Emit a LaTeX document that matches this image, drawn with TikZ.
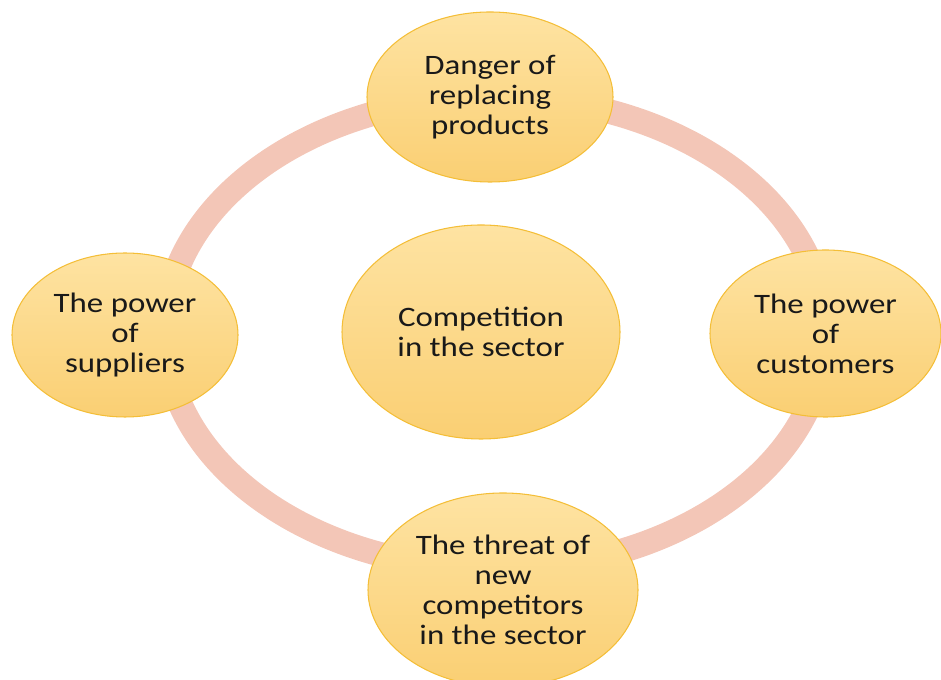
\documentclass[tikz,border=0pt]{standalone}
\usepackage{fontspec}
\setmainfont{Carlito}[FakeStretch=1.17]
\usetikzlibrary{shapes.geometric}
\definecolor{ringpink}{RGB}{243,198,183}
\definecolor{goldtop}{RGB}{254,227,162}
\definecolor{goldbot}{RGB}{250,207,115}
\definecolor{goldline}{RGB}{244,190,55}
\tikzstyle{force}=[ellipse,draw=goldline,line width=0.6pt,top color=goldtop,bottom color=goldbot,inner sep=0pt,align=center,text=black!90,font=\fontsize{16}{17}\selectfont]
\tikzstyle{ring}=[draw=ringpink,line width=14pt]

\begin{document}
\begin{tikzpicture}
\useasboundingbox (0,0) rectangle (18.82,13.6);

% the ring behind the five forces
\coordinate (ringc) at (9.9,6.94);
\draw[ring] (ringc) ellipse (6.6 and 4.72);

\node[force,minimum width=5.56cm,minimum height=4.28cm] (sector) at (9.62,6.96) {Competition\\in the sector};
\node[force,minimum width=4.92cm,minimum height=3.4cm] (replace) at (9.8,11.66) {Danger of\\replacing\\products};
\node[force,minimum width=4.52cm,minimum height=3.28cm] (suppliers) at (2.5,6.9) {The power\\of\\suppliers};
\node[force,minimum width=4.62cm,minimum height=3.34cm] (customers) at (16.51,6.93) {The power\\of\\customers};
\node[force,minimum width=5.4cm,minimum height=3.88cm] (entrants) at (10.06,1.8) {The threat of\\new\\competitors\\in the sector};
\end{tikzpicture}
\end{document}
